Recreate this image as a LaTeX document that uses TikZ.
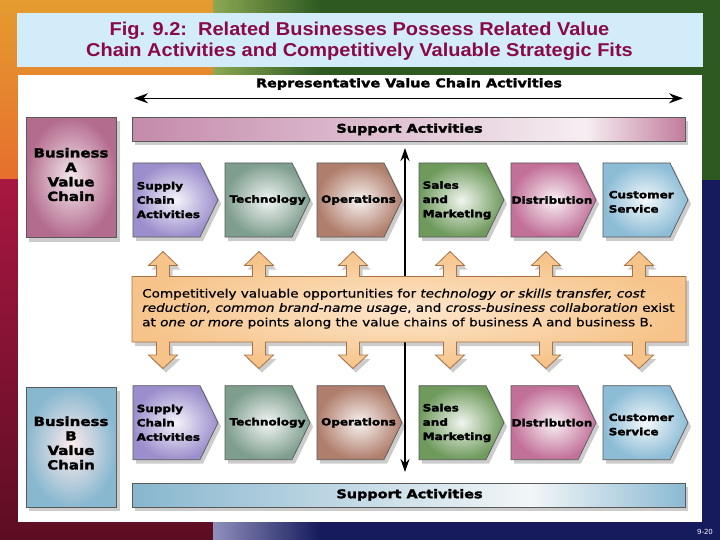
\documentclass[tikz,border=0pt]{standalone}
\usepackage{fontspec}
\setmainfont{DejaVu Sans}
\newfontfamily\heavyf[FakeStretch=1.2,FakeBold=2.2]{DejaVu Sans}
\newfontfamily\bodyf[FakeStretch=1.18,FakeBold=0.6]{DejaVu Sans}
\newfontfamily\titlef[FakeStretch=1.075]{Liberation Sans}
\usetikzlibrary{shadows,arrows.meta}
\definecolor{navy}{HTML}{151B5C}
\definecolor{dgreen}{HTML}{2E5A22}
\definecolor{lgreen}{HTML}{8CA852}
\definecolor{orng}{HTML}{E08A38}
\definecolor{crim}{HTML}{A8183E}
\definecolor{titlebg}{HTML}{D2ECFA}
\definecolor{titlefg}{HTML}{8A0A48}
\definecolor{pkL}{HTML}{C48AAA}
\definecolor{pkW}{HTML}{F6EEF2}
\definecolor{pkR}{HTML}{C27C9C}
\definecolor{blL}{HTML}{88B6CE}
\definecolor{blW}{HTML}{F2F6F8}
\definecolor{blR}{HTML}{8CBAD2}
\definecolor{cSup}{HTML}{9C8ECC}
\definecolor{cTec}{HTML}{7E9E8E}
\definecolor{cOps}{HTML}{B07E6C}
\definecolor{cSal}{HTML}{6E9A5C}
\definecolor{cDis}{HTML}{C27098}
\definecolor{cCus}{HTML}{8CBCD6}
\definecolor{bzA}{HTML}{B46C8E}
\definecolor{bzB}{HTML}{88B8D0}
\definecolor{orbox}{HTML}{F6C48A}
\definecolor{orin}{HTML}{FDE6CC}
\definecolor{orline}{HTML}{A87244}
\pgfdeclarehorizontalshading{pinkbar}{100bp}{color(0bp)=(pkL); color(25bp)=(pkL); color(66bp)=(pkW); color(75bp)=(pkR); color(100bp)=(pkR)}
\pgfdeclarehorizontalshading{bluebar}{100bp}{color(0bp)=(blL); color(25bp)=(blL); color(61bp)=(blW); color(75bp)=(blR); color(100bp)=(blR)}
\tikzset{
  hv/.style={font=\heavyf\bfseries\fontsize{12}{14}\selectfont, inner sep=0pt},
  chtxt/.style={font=\heavyf\bfseries\fontsize{10}{14.3}\selectfont, inner sep=0pt, align=left},
  bztxt/.style={font=\heavyf\bfseries\fontsize{12.5}{14.5}\selectfont, inner sep=0pt, align=center},
  ctxt/.style={font=\bodyf\fontsize{11.5}{14}\selectfont, inner sep=0pt},
  ttxt/.style={font=\titlef\bfseries\fontsize{18.6}{21}\selectfont, text=titlefg, inner sep=0pt},
  shd/.style={drop shadow={shadow xshift=3pt,shadow yshift=-4pt,opacity=0.2,fill=black}},
  outl/.style={draw=black!65, line width=0.7pt},
  dblarrow/.style={line width=#1, {Stealth[length=14pt,width=10pt]}-{Stealth[length=14pt,width=10pt]}}
}
\newcommand{\chev}[3]{\shade[shd, outl, inner color=#3!10!white, outer color=#3] (#1,#2) -- ++(67,0) -- ++(18,37) -- ++(-18,37) -- ++(-67,0) -- cycle;}
\begin{document}
\begin{tikzpicture}[x=1pt,y=-1pt]
\useasboundingbox (0,0) rectangle (720,540);
% background
\fill[navy] (0,0) rectangle (720,540);
\fill[dgreen] (213,0) rectangle (720,180);
\shade[left color=lgreen, right color=dgreen] (213,0) rectangle (320,180);
\shade[top color=orng!85!yellow, bottom color=orng!80!red] (0,0) rectangle (213,180);
\shade[top color=crim, bottom color=crim!55!black] (0,180) rectangle (213,540);
\shade[left color=blue!25!gray!70, right color=navy] (213,522) rectangle (320,540);
% title
\fill[titlebg] (17,13) rectangle (703,67);
\node[ttxt, anchor=base] (title1) at (359.5,36) {Fig. 9.2:\ \ Related Businesses Possess Related Value};
\node[ttxt, anchor=base] (title2) at (359.5,56.7) {Chain Activities and Competitively Valuable Strategic Fits};
% panel
\fill[white] (18,75) rectangle (702,522);
\node[hv, anchor=base] (rep) at (409,87.3) {Representative Value Chain Activities};
\coordinate (hl) at (134,98.3);
\coordinate (hr) at (683,98.3);
\draw[dblarrow=1.3pt] (hl) -- (hr);
% support bars
\shade[shd, outl, shading=pinkbar] (132,117.5) rectangle (685,141.5);
\node[hv, anchor=base] (supA) at (409.5,132.7) {Support Activities};
\shade[shd, outl, shading=bluebar] (132,483) rectangle (685,507);
\node[hv, anchor=base] (supB) at (409.5,498.2) {Support Activities};
% business boxes
\shade[shd, outl, inner color=bzA!15!white, outer color=bzA] (26,117.5) rectangle (116.5,237.5);
\node[bztxt] (bzAt) at (71,174.5) {Business\\A\\Value\\Chain};
\shade[shd, outl, inner color=pink!30!white, outer color=bzB] (26,387) rectangle (116.5,507);
\node[bztxt] (bzBt) at (71,443) {Business\\B\\Value\\Chain};
% vertical arrow
\coordinate (vt) at (405,148);
\coordinate (vb) at (405,472);
\draw[line width=1.8pt, {Stealth[length=13pt,width=9pt]}-{Stealth[length=13pt,width=9pt]}] (vt) -- (vb);
% chevrons
\foreach \yy/\dd in {163/0,385.7/222.7}{
  \chev{133}{\yy}{cSup}
  \chev{225}{\yy}{cTec}
  \chev{317}{\yy}{cOps}
  \chev{419}{\yy}{cSal}
  \chev{511}{\yy}{cDis}
  \chev{603}{\yy}{cCus}
}
\foreach \dd/\r in {0/A,222.7/B}{
  \node[chtxt, anchor=west] (sup\r) at (136.5,200+\dd) {Supply\\Chain\\Activities};
  \node[chtxt] (tec\r) at (267.5,200+\dd) {Technology};
  \node[chtxt] (ops\r) at (358.5,200+\dd) {Operations};
  \node[chtxt, anchor=west] (sal\r) at (422.5,200.3+\dd) {Sales\\and\\Marketing};
  \node[chtxt] (dis\r) at (552,200+\dd) {Distribution};
  \node[chtxt, anchor=west] (cus\r) at (608.5,201.8+\dd) {Customer\\Service};
}
% central box with arrows
\shade[shd, draw=orline, line width=0.8pt, inner color=orin, outer color=orbox]
  (132,276.5)
  \foreach \c in {163,259,353,450,546,639}{ -- (\c-6.5,276.5) -- (\c-6.5,265.5) -- (\c-14.5,265.5) -- (\c,251.5) -- (\c+14.5,265.5) -- (\c+6.5,265.5) -- (\c+6.5,276.5)}
  -- (686,276.5) -- (686,342)
  \foreach \c in {639,546,450,353,259,163}{ -- (\c+6.5,342) -- (\c+6.5,355) -- (\c+14.5,355) -- (\c,368.5) -- (\c-14.5,355) -- (\c-6.5,355) -- (\c-6.5,342)}
  -- (132,342) -- cycle;
\node[ctxt, anchor=base west] (t1) at (142,297.5) {Competitively valuable opportunities for \textit{technology or skills transfer, cost}};
\node[ctxt, anchor=base west] (t2) at (142,311.8) {\textit{reduction, common brand-name usage}, and \textit{cross-business collaboration} exist};
\node[ctxt, anchor=base west] (t3) at (142,326.3) {at \textit{one or more} points along the value chains of business A and business B.};
% page number
\node[text=white, font=\fontsize{7}{8}\selectfont, inner sep=0pt] (pg) at (705,532) {9-20};
\end{tikzpicture}
\end{document}
